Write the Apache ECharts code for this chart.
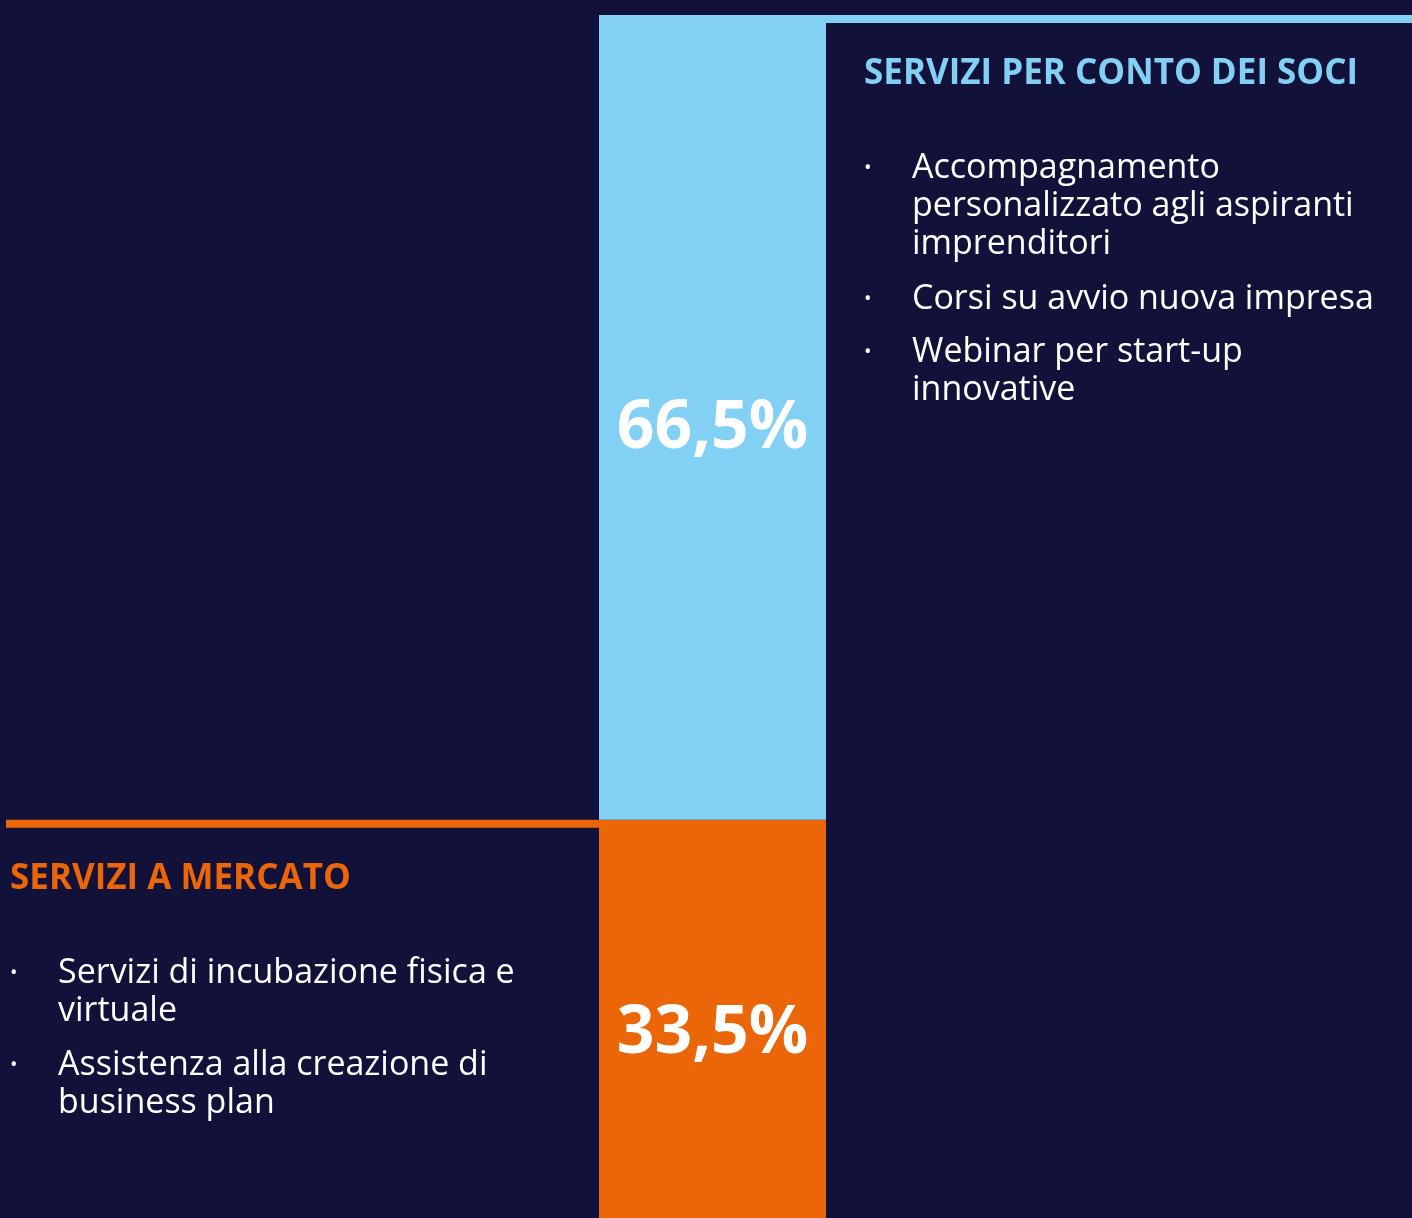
<!DOCTYPE html>
<html>
<head>
<meta charset="utf-8">
<script src="https://cdn.jsdelivr.net/npm/echarts@6/dist/echarts.min.js"></script>
<style>
  html, body { margin: 0; padding: 0; background: #12113a; }
  #chart { width: 1412px; height: 1218px; }
</style>
</head>
<body>
<div id="chart"></div>
<script>
const categories = ['Servizi'];
const mercatoName = 'SERVIZI A MERCATO';
const sociName = 'SERVIZI PER CONTO DEI SOCI';
const mercatoValues = [33.5];
const sociValues = [66.5];
const mercatoItems = ['Servizi di incubazione fisica e\nvirtuale', 'Assistenza alla creazione di\nbusiness plan'];
const sociItems = ['Accompagnamento\npersonalizzato agli aspiranti\nimprenditori', 'Corsi su avvio nuova impresa', 'Webinar per start-up\ninnovative'];

const BG = '#12113a';
const BLUE = '#83d0f5';
const ORANGE = '#eb6608';
const FONT = 'Open Sans';

const chart = echarts.init(document.getElementById('chart'));

const pctLabel = {
  show: true,
  position: 'inside',
  offset: [0, 12],
  color: '#ffffff',
  fontFamily: FONT,
  fontWeight: 'bold',
  fontSize: 66,
  formatter: p => String(p.value).replace('.', ',') + '%'
};

chart.setOption({
  backgroundColor: BG,
  animation: false,
  // bar runs past the bottom edge of the picture
  grid: { left: 599, width: 227, top: 15, height: 1210, outerBoundsMode: 'none' },
  xAxis: { type: 'category', data: categories, show: false },
  yAxis: { type: 'value', min: 0, max: 100, show: false },
  series: [
    { name: mercatoName, type: 'bar', stack: 'tot', barWidth: '100%', data: mercatoValues,
      itemStyle: { color: ORANGE }, label: pctLabel },
    { name: sociName, type: 'bar', stack: 'tot', barWidth: '100%', data: sociValues,
      itemStyle: { color: BLUE }, label: pctLabel }
  ]
});

// decorative rules + text blocks
const yTop = chart.convertToPixel({ yAxisIndex: 0 }, 100);
const ySplit = chart.convertToPixel({ yAxisIndex: 0 }, mercatoValues[0]);
const gLeft = 599, gRight = 826;

function bulletList(items, xBullet, xText, tops) {
  const out = [];
  items.forEach((t, i) => {
    out.push({ type: 'text', x: xBullet, y: tops[i] + 19, style: { text: '•', fill: '#ffffff', font: '20px ' + FONT, verticalAlign: 'middle' } });
    out.push({ type: 'text', x: xText, y: tops[i], style: { text: t, fill: '#ffffff', fontFamily: FONT, fontSize: 34, lineHeight: 38, verticalAlign: 'top' } });
  });
  return out;
}

chart.setOption({
  graphic: [
    { type: 'rect', shape: { x: gRight, y: yTop, width: 1412 - gRight, height: 8 }, style: { fill: BLUE } },
    { type: 'rect', shape: { x: 6, y: ySplit, width: gLeft - 6, height: 8 }, style: { fill: ORANGE } },
    { type: 'text', x: 864, y: 74, style: { text: sociName, fill: BLUE, fontFamily: FONT, fontWeight: 'bold', fontSize: 35, verticalAlign: 'middle' } },
    { type: 'text', x: 10, y: 879, style: { text: mercatoName, fill: ORANGE, fontFamily: FONT, fontWeight: 'bold', fontSize: 35, verticalAlign: 'middle' } },
    ...bulletList(sociItems, 864, 912, [149, 280, 333]),
    ...bulletList(mercatoItems, 10, 58, [954, 1046])
  ]
});
</script>
</body>
</html>
